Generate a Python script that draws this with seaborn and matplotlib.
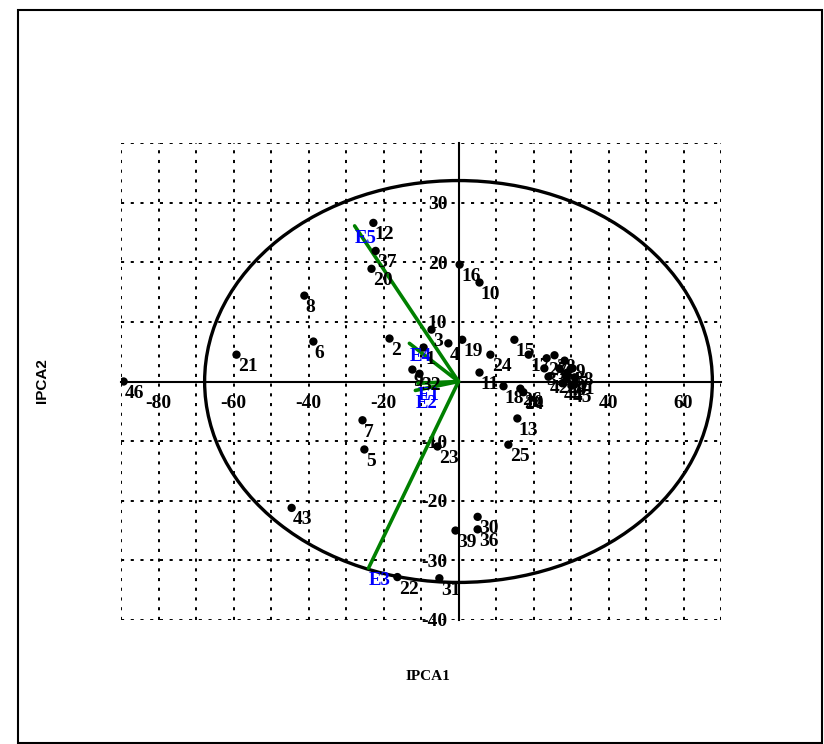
import matplotlib
matplotlib.use("Agg")
import matplotlib.pyplot as plt
from matplotlib.patches import Ellipse, Rectangle
from matplotlib.ticker import MultipleLocator
import pandas as pd
import seaborn as sns

# genotypes: IPCA1 / IPCA2 scores
gen_labels = ["1", "2", "3", "4", "5", "6", "7", "8", "9", "10",
              "11", "12", "13", "14", "15", "16", "17", "18", "19", "20",
              "21", "22", "23", "24", "25", "26", "27", "28", "29", "30",
              "31", "32", "33", "34", "35", "36", "37", "38", "39", "40",
              "41", "42", "43", "44", "45", "46"]
gen_ipca1 = [-9.3, -18.4, -7.2, -2.7, -25.1, -38.7, -25.6, -41.1, -12.3, 5.6,
             5.6, -22.7, 15.7, 17.3, 14.9, 0.3, 18.7, 12.0, 1.0, -23.2,
             -59.2, -16.3, -5.6, 8.5, 13.3, 16.5, 23.5, 25.6, 28.3, 5.1,
             -5.1, -10.4, 22.9, 26.9, 29.0, 5.1, -22.1, 30.4, -0.8, 28.8,
             31.0, 24.0, -44.5, 27.7, 30.1, -89.3]
gen_ipca2 = [5.7, 7.2, 8.7, 6.4, -11.4, 6.7, -6.5, 14.4, 2.0, 16.6,
             1.5, 26.6, -6.2, -1.8, 7.0, 19.6, 4.5, -0.8, 7.0, 18.9,
             4.5, -32.8, -10.9, 4.5, -10.6, -1.2, 3.9, 4.4, 3.5, -22.7,
             -33.0, 1.3, 2.2, 2.2, 1.5, -24.8, 21.9, 2.2, -25.0, 0.5,
             0.7, 0.8, -21.2, -0.3, -0.7, 0.0]

# environments (vectors from origin)
env_labels = ["E1", "E2", "E3", "E4", "E5"]
env_ipca1 = [-10.8, -11.5, -24.0, -13.1, -27.7]
env_ipca2 = [-0.3, -1.5, -31.3, 6.4, 26.1]

x_ticks = [-80, -60, -40, -20, 20, 40, 60]
y_ticks = [-40, -30, -20, -10, 10, 20, 30]

sns.set_style("white")
plt.rcParams["font.family"] = ["Liberation Serif", "DejaVu Serif"]
plt.rcParams["font.weight"] = "bold"
plt.rcParams["axes.unicode_minus"] = False
plt.rcParams["text.color"] = "black"
plt.rcParams["xtick.color"] = "black"
plt.rcParams["ytick.color"] = "black"

fig = plt.figure(figsize=(8.24, 7.44), dpi=100)
ax = fig.add_axes([121 / 824, 1 - 620 / 744, 600 / 824, 477 / 744])

ax.set_xlim(-90, 70)
ax.set_ylim(-40, 40)

# dotted grid every 10 units
ax.xaxis.set_major_locator(plt.FixedLocator(x_ticks))
ax.xaxis.set_minor_locator(MultipleLocator(10))
ax.yaxis.set_major_locator(plt.FixedLocator(y_ticks))
ax.yaxis.set_minor_locator(MultipleLocator(10))
ax.grid(which="both", color="black", linestyle=(0, (1.6, 3.4)), linewidth=1.4)
ax.set_axisbelow(True)

# axes crossing at origin
for side in ["top", "right"]:
    ax.spines[side].set_visible(False)
for side in ["left", "bottom"]:
    ax.spines[side].set_position(("data", 0))
    ax.spines[side].set_linewidth(1.5)
    ax.spines[side].set_color("black")
ax.spines["left"].set_bounds(-40, 40)
ax.spines["bottom"].set_bounds(-90, 70)

ax.tick_params(axis="x", which="major", direction="out", length=6, width=1.5,
               pad=4, labelsize=14, colors="black")
ax.tick_params(axis="y", which="major", direction="inout", length=12, width=1.5,
               pad=2, labelsize=14, colors="black")
ax.tick_params(which="minor", length=0)
for lab in ax.get_xticklabels() + ax.get_yticklabels():
    lab.set_fontweight("bold")

# ellipse
ax.add_patch(Ellipse((0, 0), width=2 * 67.7, height=2 * 33.7, fill=False,
                     edgecolor="black", linewidth=2.4, zorder=3))

# environment vectors
vec = pd.DataFrame({
    "env": [e for e in env_labels for _ in range(2)],
    "x": [v for x in env_ipca1 for v in (0, x)],
    "y": [v for y in env_ipca2 for v in (0, y)],
})
sns.lineplot(data=vec, x="x", y="y", units="env", estimator=None, sort=False,
             color="#008000", linewidth=2.6, ax=ax, zorder=4)
for lab, x, y in zip(env_labels, env_ipca1, env_ipca2):
    ax.annotate(lab, (x, y), xytext=(0, -3), textcoords="offset points",
                ha="left", va="top", color="#0000ff", fontsize=13.5,
                fontweight="bold", zorder=6)

# genotype points
gen = pd.DataFrame({"name": gen_labels, "x": gen_ipca1, "y": gen_ipca2})
sns.scatterplot(data=gen, x="x", y="y", color="black", s=36, edgecolor="none",
                ax=ax, zorder=5)
for lab, x, y in zip(gen_labels, gen_ipca1, gen_ipca2):
    ax.annotate(lab, (x, y), xytext=(1, -2.5), textcoords="offset points",
                ha="left", va="top", color="black", fontsize=14,
                fontweight="bold", zorder=6)

ax.set_xlabel("")
ax.set_ylabel("")

fig.text(428 / 824, 1 - 676 / 744, "IPCA1", ha="center", va="center",
         fontsize=11, fontweight="bold", color="black")
fig.text(42 / 824, 1 - 381 / 744, "IPCA2", ha="center", va="center",
         rotation=90, fontsize=11, fontweight="bold", color="black",
         family=["Liberation Sans", "DejaVu Sans"])

# outer frame
fig.patches.append(Rectangle((18 / 824, 0.001), 1 - 18 / 824 - 0.002,
                             1 - 10 / 744 - 0.001, transform=fig.transFigure,
                             fill=False, edgecolor="black", linewidth=1.5))

fig.savefig("out.png", dpi=100)
